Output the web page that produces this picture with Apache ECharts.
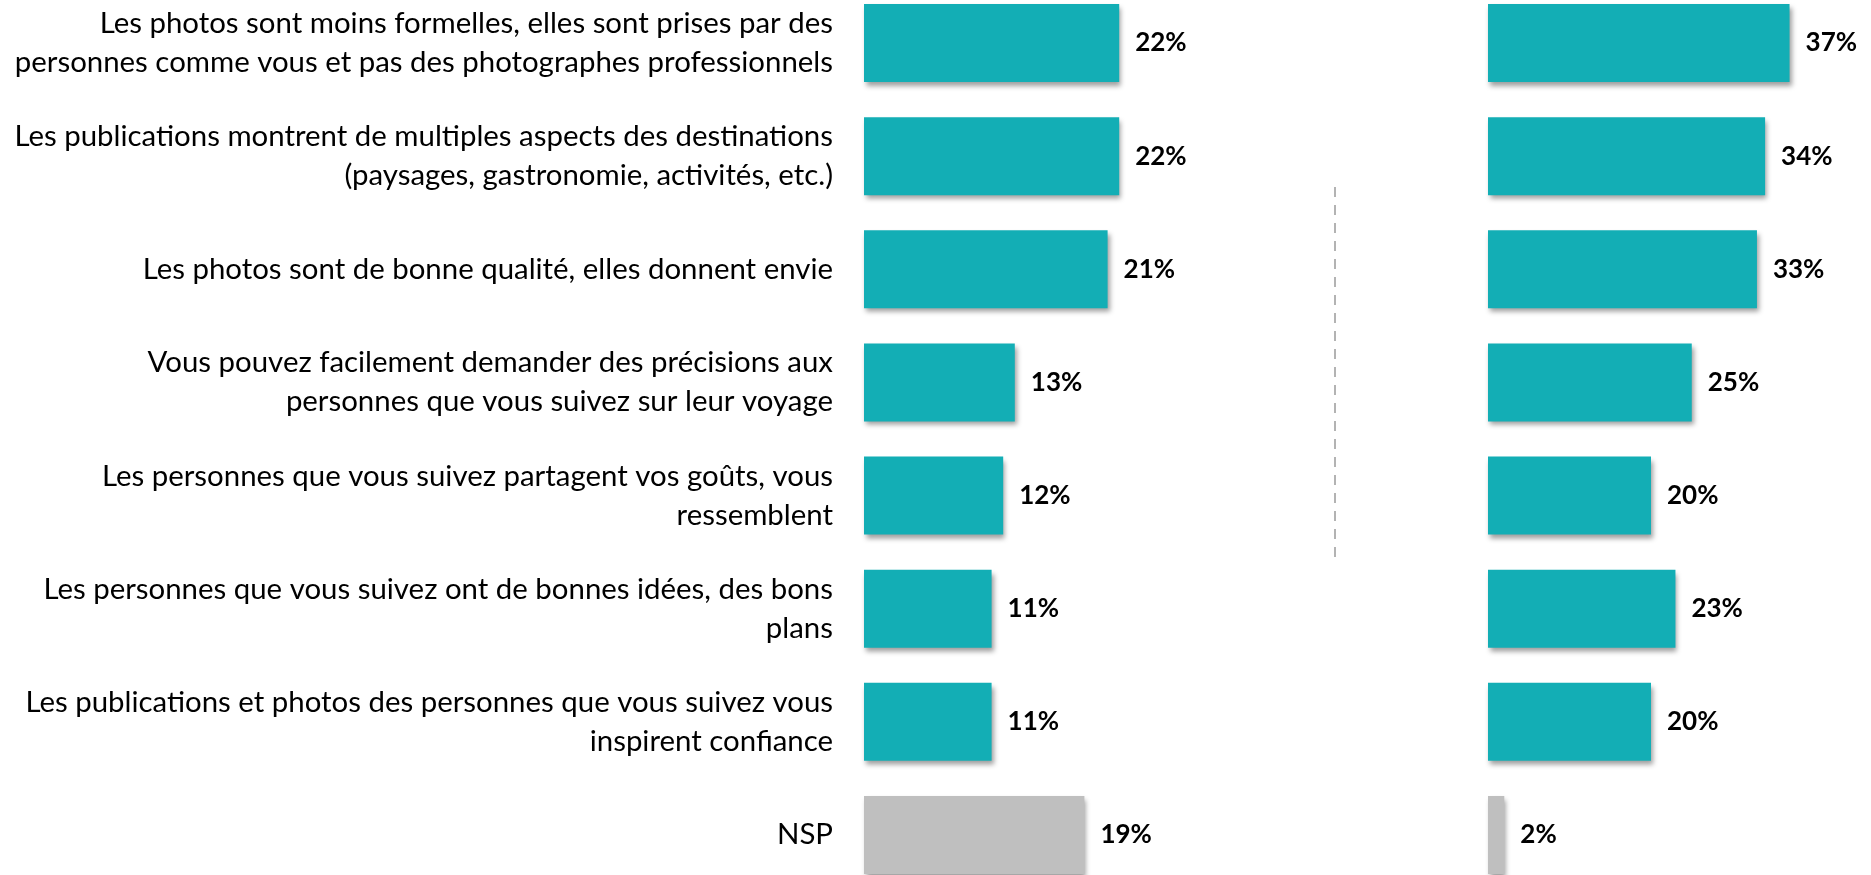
<!DOCTYPE html>
<html>
<head>
<meta charset="utf-8">
<script src="https://cdn.jsdelivr.net/npm/echarts@6/dist/echarts.min.js"></script>
<style>
  html, body { margin: 0; padding: 0; background: #fff; }
  #chart { width: 1871px; height: 875px; }
</style>
</head>
<body>
<div id="chart"></div>
<script>
const categories = [
  'Les photos sont moins formelles, elles sont prises par des\npersonnes comme vous et pas des photographes professionnels',
  'Les publications montrent de multiples aspects des destinations\n(paysages, gastronomie, activités, etc.)',
  'Les photos sont de bonne qualité, elles donnent envie',
  'Vous pouvez facilement demander des précisions aux\npersonnes que vous suivez sur leur voyage',
  'Les personnes que vous suivez partagent vos goûts, vous\nressemblent',
  'Les personnes que vous suivez ont de bonnes idées, des bons\nplans',
  'Les publications et photos des personnes que vous suivez vous\ninspirent confiance',
  'NSP'
]
const leftValues = [22, 22, 21, 13, 12, 11, 11, 19]
const rightValues = [37, 34, 33, 25, 20, 23, 20, 2]

const TEAL = '#13aeb5'
const GREY = '#bfbfbf'
const FONT = 'Lato, "Open Sans", sans-serif'

const chart = echarts.init(document.getElementById('chart'))

function barSeries(values, idx) {
  return {
    type: 'bar',
    xAxisIndex: idx,
    yAxisIndex: idx,
    barWidth: 78,
    data: values,
    itemStyle: {
      color: p => (p.name === 'NSP' ? GREY : TEAL),
      shadowColor: 'rgba(0,0,0,0.38)',
      shadowBlur: 5,
      shadowOffsetX: 2,
      shadowOffsetY: 4
    },
    label: {
      show: true,
      position: 'right',
      distance: 16,
      formatter: '{c}%',
      color: '#000',
      fontFamily: FONT,
      fontWeight: 'bold',
      fontSize: 26
    }
  }
}

function valueAxis(idx) {
  return {
    type: 'value',
    gridIndex: idx,
    min: 0,
    max: 40,
    show: false
  }
}

// category ticks sit on the bar centres (boundaryGap false), first row at y=43, last at y=835
chart.setOption({
  animation: false,
  grid: [
    { left: 864, width: 464, top: 43, height: 792, outerBoundsMode: 'none' },
    { left: 1488, width: 326, top: 43, height: 792, outerBoundsMode: 'none' }
  ],
  xAxis: [valueAxis(0), valueAxis(1)],
  yAxis: [
    {
      type: 'category',
      gridIndex: 0,
      inverse: true,
      boundaryGap: false,
      data: categories,
      axisLine: { show: false },
      axisTick: { show: false },
      axisLabel: {
        margin: 31,
        align: 'right',
        color: '#000',
        fontFamily: FONT,
        fontSize: 29.4,
        lineHeight: 39
      }
    },
    {
      type: 'category',
      gridIndex: 1,
      inverse: true,
      boundaryGap: false,
      data: categories,
      show: false
    }
  ],
  series: [barSeries(leftValues, 0), barSeries(rightValues, 1)],
  graphic: [{
    type: 'line',
    shape: { x1: 1335, y1: 187, x2: 1335, y2: 565 },
    style: { stroke: '#b3b3b3', lineWidth: 2, lineDash: [10, 8] }
  }]
})
</script>
</body>
</html>
